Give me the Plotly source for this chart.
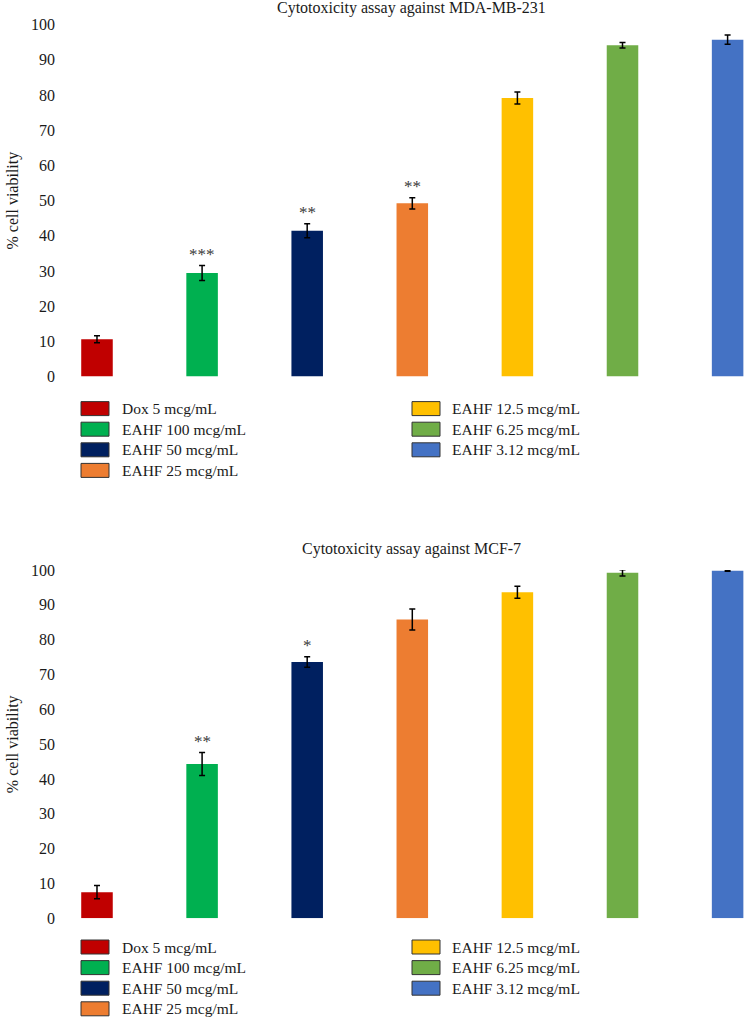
import plotly.graph_objects as go

# ---------------- data ----------------
categories = ["Dox 5 mcg/mL", "EAHF 100 mcg/mL", "EAHF 50 mcg/mL", "EAHF 25 mcg/mL",
              "EAHF 12.5 mcg/mL", "EAHF 6.25 mcg/mL", "EAHF 3.12 mcg/mL"]
colors = ["#C00000", "#00B050", "#002060", "#ED7D31", "#FFC000", "#70AD47", "#4472C4"]

mda_values = [10.6, 29.4, 41.4, 49.2, 79.1, 94.1, 95.7]
mda_errors = [1.0, 2.1, 2.0, 1.6, 1.7, 0.8, 1.3]
mda_signif = ["", "***", "**", "**", "", "", ""]

mcf_values = [7.5, 44.3, 73.6, 85.8, 93.6, 99.2, 99.8]
mcf_errors = [1.9, 3.3, 1.5, 3.0, 1.7, 0.9, 0.15]
mcf_signif = ["", "**", "*", "", "", "", ""]

titles = ["Cytotoxicity assay against MDA-MB-231", "Cytotoxicity assay against MCF-7"]
y_title = "% cell viability"
y_ticks = [0, 10, 20, 30, 40, 50, 60, 70, 80, 90, 100]

# ---------------- layout helpers ----------------
W, H = 744, 1018
FONT = "'Liberation Serif', 'Times New Roman', serif"
TXT = "#1a1a1a"


def px_x(p):
    return p / W


def px_y(p):
    return 1 - p / H


panels = [
    dict(values=mda_values, errors=mda_errors, signif=mda_signif, title=titles[0],
         top=24.5, bottom=376.5, title_y=8, legend_y=408.6),
    dict(values=mcf_values, errors=mcf_errors, signif=mcf_signif, title=titles[1],
         top=570.0, bottom=918.3, title_y=549, legend_y=947.0),
]

fig = go.Figure()
annotations = []
shapes = []
layout_axes = {}

for k, p in enumerate(panels):
    suffix = "" if k == 0 else str(k + 1)
    xa, ya = "x" + suffix, "y" + suffix
    fig.add_trace(go.Bar(
        x=categories, y=p["values"], xaxis=xa, yaxis=ya,
        marker=dict(color=colors, line=dict(width=0)),
        width=0.30,
        error_y=dict(type="data", array=p["errors"], visible=True,
                     color="black", thickness=1.5, width=3),
        showlegend=False,
    ))
    layout_axes["xaxis" + suffix] = dict(
        domain=[56 / W, 1], range=[-0.39, 6.156], showticklabels=False,
        showgrid=False, zeroline=False, showline=False, ticks="",
        anchor=ya, type="category", fixedrange=True,
    )
    layout_axes["yaxis" + suffix] = dict(
        domain=[px_y(p["bottom"]), px_y(p["top"])], range=[0, 100],
        tickvals=y_ticks, showgrid=False, zeroline=False, showline=False,
        ticks="", tickfont=dict(family=FONT, size=16, color=TXT),
        anchor=xa, automargin=False, fixedrange=True,
    )
    # significance marks
    for cat, v, e, s in zip(categories, p["values"], p["errors"], p["signif"]):
        if s:
            annotations.append(dict(
                x=cat, y=v + e, xref=xa, yref=ya, text=s, showarrow=False,
                yanchor="bottom", yshift=0,
                font=dict(family=FONT, size=17, color="#3a3a3a"),
            ))
    # title
    annotations.append(dict(
        x=px_x(412), y=px_y(p["title_y"]), xref="paper", yref="paper",
        text=p["title"], showarrow=False, xanchor="center", yanchor="middle",
        font=dict(family=FONT, size=16, color=TXT),
    ))
    # y-axis title
    annotations.append(dict(
        x=px_x(13), y=px_y((p["top"] + p["bottom"]) / 2), xref="paper", yref="paper",
        text=y_title, showarrow=False, textangle=-90, xanchor="center", yanchor="middle",
        font=dict(family=FONT, size=16, color=TXT),
    ))
    # legend (two columns: 4 + 3)
    for i, (cat, col) in enumerate(zip(categories, colors)):
        c = 0 if i < 4 else 1
        r = i if i < 4 else i - 4
        sx = [81, 412][c]
        tx = [120, 450][c]
        cy = p["legend_y"] + 20.6 * r
        shapes.append(dict(
            type="rect", xref="paper", yref="paper",
            x0=px_x(sx), x1=px_x(sx + 28), y0=px_y(cy + 7), y1=px_y(cy - 7),
            fillcolor=col, line=dict(color="#333333", width=1),
        ))
        annotations.append(dict(
            x=px_x(tx), y=px_y(cy), xref="paper", yref="paper", text=cat,
            showarrow=False, xanchor="left", yanchor="middle",
            font=dict(family=FONT, size=15.5, color=TXT),
        ))

fig.update_layout(
    width=W, height=H,
    margin=dict(l=0, r=0, t=0, b=0),
    paper_bgcolor="white", plot_bgcolor="white",
    template="none",
    font=dict(family=FONT, color=TXT),
    annotations=annotations, shapes=shapes,
    showlegend=False,
    **layout_axes,
)

fig.write_html("out.html")
